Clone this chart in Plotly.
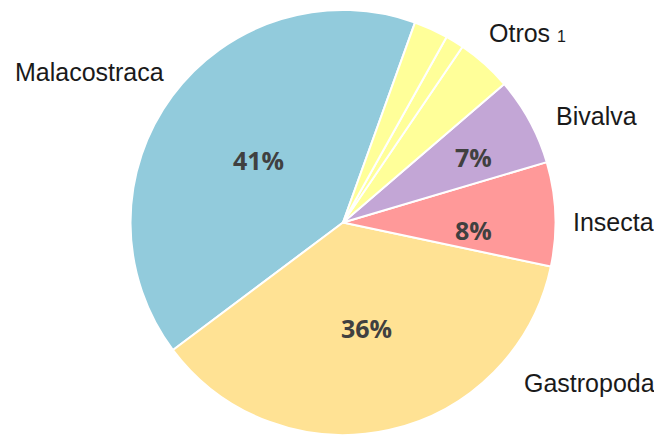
import plotly.graph_objects as go

# Data
slice_names = ["Malacostraca", "Gastropoda", "Insecta", "Bivalva", "Otros a", "Otros b", "Otros c"]
slice_values = [40.7, 36.4, 7.9, 6.7, 4.2, 1.4, 2.6]
slice_colors = ["#92CBDC", "#FFE294", "#FF9999", "#C3A6D6", "#FFFF99", "#FFFF99", "#FFFF99"]
show_percent = [True, True, True, True, False, False, False]

group_labels = ["Malacostraca", "Gastropoda", "Insecta", "Bivalva", "Otros"]

W, H = 654, 435
total = sum(slice_values)
pct_text = [f"{round(v / total * 100)}%" if s else "" for v, s in zip(slice_values, show_percent)]

cx, cy, R = 343, 222.5, 212.5
start_angle = 19.8  # degrees clockwise from 12 o'clock where Malacostraca begins
rotation = start_angle - slice_values[0] / total * 360

fig = go.Figure()
fig.add_trace(go.Pie(
    labels=slice_names,
    values=slice_values,
    sort=False,
    direction="counterclockwise",
    rotation=rotation,
    marker=dict(colors=slice_colors, line=dict(color="white", width=2)),
    textinfo="none",
    hoverinfo="label+percent",
    showlegend=False,
    domain=dict(x=[(cx - R) / W, (cx + R) / W], y=[max(0, (H - (cy + R)) / H), (H - (cy - R)) / H]),
))

def px(x, y):
    return x / W, (H - y) / H

# percent labels positions (pixels in the reference)
pct_pos = [(258, 160), (366, 328), (473.5, 230), (473, 157)]
annotations = []
for (x, y), t in zip(pct_pos, [p for p in pct_text if p]):
    ax, ay = px(x, y)
    annotations.append(dict(x=ax, y=ay, xref="paper", yref="paper", text=f"<b>{t}</b>",
                            showarrow=False, xanchor="center", yanchor="middle",
                            font=dict(family="Open Sans", size=25, color="#404040")))

label_texts = [
    group_labels[0],
    group_labels[1],
    group_labels[2],
    group_labels[3],
    group_labels[4] + " <span style='font-size:16px'>1</span>",
]
label_pos = [(13, 72), (522, 383), (571, 222), (554, 116), (487, 33)]
for (x, y), t in zip(label_pos, label_texts):
    ax, ay = px(x, y)
    annotations.append(dict(x=ax, y=ay, xref="paper", yref="paper", text=t,
                            showarrow=False, xanchor="left", yanchor="middle",
                            font=dict(family="Liberation Sans, Arial", size=25, color="#1a1a1a")))

fig.update_layout(
    width=W, height=H,
    margin=dict(l=0, r=0, t=0, b=0),
    paper_bgcolor="white",
    plot_bgcolor="white",
    annotations=annotations,
)

fig.write_html(
    "out.html",
    config={"displayModeBar": False},
    post_script="document.body.style.margin='0px';document.body.style.overflow='hidden';",
)
